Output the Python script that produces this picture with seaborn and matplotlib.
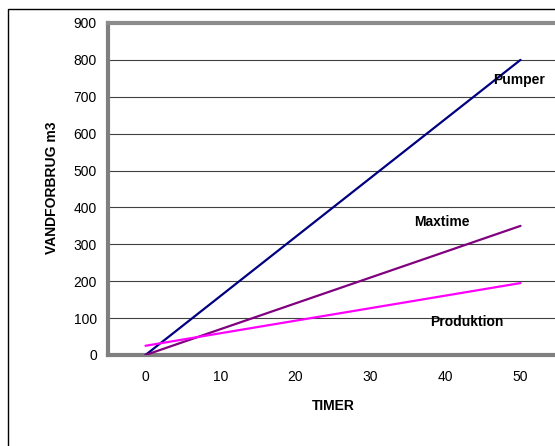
import matplotlib
matplotlib.use("Agg")
import matplotlib.pyplot as plt
import matplotlib.patches as mpatches
import seaborn as sns
import pandas as pd

# Water consumption over time (hours)
timer = [0, 50]
pumper = [0, 800]
maxtime = [0, 350]
produktion = [25, 195]
series_names = ["Pumper", "Maxtime", "Produktion"]
series_colors = ["#000080", "#800080", "#FF00FF"]
x_labels = [0, 10, 20, 30, 40, 50]
y_ticks = [0, 100, 200, 300, 400, 500, 600, 700, 800, 900]

df = pd.DataFrame({
    "TIMER": timer * 3,
    "VANDFORBRUG": pumper + maxtime + produktion,
    "serie": [n for n in series_names for _ in timer],
})

sns.set_style("white")
plt.rcParams["font.family"] = ["Liberation Sans", "DejaVu Sans"]
plt.rcParams["text.color"] = "black"
plt.rcParams["xtick.color"] = "black"
plt.rcParams["ytick.color"] = "black"
plt.rcParams["axes.labelcolor"] = "black"

FS = 10
W, H = 555, 446
fig = plt.figure(figsize=(W / 100, H / 100), dpi=100)
ax = fig.add_axes([108 / W, 1 - 355 / H, (558 - 108) / W, (355 - 23) / H])

# outer chart frame
fig.patches.append(mpatches.Rectangle((8 / W, -0.1), 1.2, 1 - 9 / H + 0.1,
                                      transform=fig.transFigure, fill=False,
                                      edgecolor="black", linewidth=1.0))

sns.lineplot(data=df, x="TIMER", y="VANDFORBRUG", hue="serie",
             palette=dict(zip(series_names, series_colors)),
             linewidth=1.6, legend=False, ax=ax, zorder=3)

ax.set_xlim(-5, 55)
ax.set_ylim(0, 900)
ax.set_yticks(y_ticks)
ax.set_yticklabels([str(v) for v in y_ticks], fontsize=FS)
ax.yaxis.grid(True, color="#404040", linewidth=0.8)
ax.set_axisbelow(True)

# tick marks sit between category labels
ax.set_xticks([5, 15, 25, 35, 45])
ax.set_xticklabels([])
ax.set_xticks(x_labels, minor=True)
ax.set_xticklabels([str(v) for v in x_labels], minor=True, fontsize=FS)
ax.tick_params(axis="x", which="major", direction="out", length=5, width=0.8, color="black")
ax.tick_params(axis="x", which="minor", length=0, pad=11)
ax.tick_params(axis="y", direction="out", length=4, width=0.8, color="black", pad=4)

for s in ["left", "bottom"]:
    ax.spines[s].set_color("#808080")
    ax.spines[s].set_linewidth(3)
ax.spines["top"].set_color("#8c8c8c")
ax.spines["top"].set_linewidth(3)
ax.spines["right"].set_visible(False)

ax.set_xlabel("TIMER", fontsize=FS, fontweight="bold")
ax.set_ylabel("VANDFORBRUG m3", fontsize=FS, fontweight="bold")
ax.xaxis.set_label_coords((333 - 108) / (558 - 108), -(406 - 355) / (355 - 23))
ax.yaxis.set_label_coords(-(108 - 52) / (558 - 108), (355 - 188) / (355 - 23))
ax.xaxis.label.set_va("center")
ax.yaxis.label.set_va("center")

ax.text(46.4, 745, "Pumper", fontsize=FS, fontweight="bold", va="center")
ax.text(35.8, 361, "Maxtime", fontsize=FS, fontweight="bold", va="center")
ax.text(38.0, 89, "Produktion", fontsize=FS, fontweight="bold", va="center")

fig.savefig("out.png", dpi=100)
